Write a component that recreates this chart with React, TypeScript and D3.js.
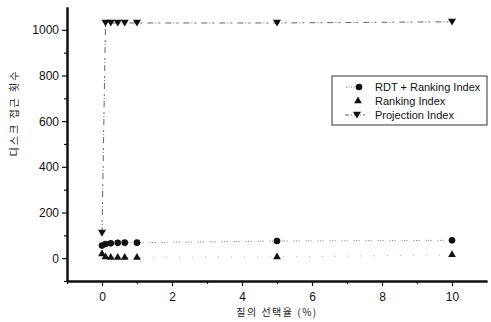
import { useEffect, useRef } from "react"
import * as d3 from "d3"

// selectivity (%) at which each point was measured
const selectivity = [0, 0.1, 0.25, 0.45, 0.65, 1, 5, 10]
const rdtRanking = [55, 62, 65, 67, 68, 68, 75, 78]
const rankingIndex = [18, 5, 3, 3, 3, 3, 5, 15]
const projectionIndex = [110, 1030, 1030, 1030, 1030, 1030, 1030, 1035]

const xMajor = [0, 2, 4, 6, 8, 10]
const xMinor = [-1, 1, 3, 5, 7, 9]
const yMajor = [0, 200, 400, 600, 800, 1000]
const yMinor = [-100, 100, 300, 500, 700, 900]

const legendLabels = ["RDT + Ranking Index", "Ranking Index", "Projection Index"]

export default function App() {
    const svgRef = useRef<SVGSVGElement>(null)

    useEffect(() => {
        if (!svgRef.current) return
        const svg = d3.select(svgRef.current)
        svg.selectAll("*").remove()

        const left = 67, right = 487, top = 7, bottom = 281
        const font = "Liberation Sans, Arial, sans-serif"

        const x = d3.scaleLinear().domain([-1, 11]).range([left, right])
        const y = d3.scaleLinear().domain([-100, 1100]).range([bottom, top])

        const up = d3.symbol().type(d3.symbolTriangle).size(26)
        const down = (cx: number, cy: number) => {
            const s = 4
            return `M${cx - s},${cy - s * 0.8}L${cx + s},${cy - s * 0.8}L${cx},${cy + s * 0.9}Z`
        }

        // series lines
        const line = (vals: number[]) =>
            d3.line<number>().x((_, i) => x(selectivity[i])).y(d => y(d))(vals)

        svg.append("path").attr("d", line(rankingIndex))
            .attr("fill", "none").attr("stroke", "#aaa").attr("stroke-width", 1)
            .attr("stroke-dasharray", "1,12")
        svg.append("path").attr("d", line(rdtRanking))
            .attr("fill", "none").attr("stroke", "#777").attr("stroke-width", 1)
            .attr("stroke-dasharray", "1,1.5,1,1.5,1,6")
        svg.append("path").attr("d", line(projectionIndex))
            .attr("fill", "none").attr("stroke", "#666").attr("stroke-width", 1)
            .attr("stroke-dasharray", "6,2,1,2,2,5")

        // markers
        svg.selectAll(".rdt").data(rdtRanking).enter().append("circle")
            .attr("cx", (_, i) => x(selectivity[i])).attr("cy", d => y(d))
            .attr("r", 3.3).attr("fill", "#111")
        svg.selectAll(".rank").data(rankingIndex).enter().append("path")
            .attr("transform", (d, i) => `translate(${x(selectivity[i])},${y(d)})`)
            .attr("d", up()).attr("fill", "#111")
        svg.selectAll(".proj").data(projectionIndex).enter().append("path")
            .attr("d", (d, i) => down(x(selectivity[i]), y(d))).attr("fill", "#111")

        // axes
        const yAxis = svg.append("g").attr("transform", `translate(${left},0)`)
            .call(d3.axisLeft(y).tickValues(yMajor).tickFormat(d3.format("d")).tickSize(5).tickSizeOuter(0).tickPadding(3))
        yAxis.selectAll("text").style("font-size", "12px").style("font-family", font).attr("fill", "#111")
        svg.append("g").attr("transform", `translate(${left},0)`)
            .call(d3.axisLeft(y).tickValues(yMinor).tickSize(3).tickSizeOuter(0).tickFormat(() => ""))

        const xAxis = svg.append("g").attr("transform", `translate(0,${bottom})`)
            .call(d3.axisBottom(x).tickValues(xMajor).tickFormat(d3.format("d")).tickSize(5).tickSizeOuter(0).tickPadding(6))
        xAxis.selectAll("text").style("font-size", "12px").style("font-family", font).attr("fill", "#111")
        svg.append("g").attr("transform", `translate(0,${bottom})`)
            .call(d3.axisBottom(x).tickValues(xMinor).tickSize(3).tickSizeOuter(0).tickFormat(() => ""))

        svg.selectAll(".domain").attr("stroke", "#111").attr("stroke-width", 2)
        svg.selectAll(".tick line").attr("stroke", "#111").attr("stroke-width", 1.2)

        // axis titles
        svg.append("text")
            .attr("x", x(5)).attr("y", 316).attr("text-anchor", "middle")
            .style("font-family", "Noto Sans CJK KR, sans-serif").style("font-size", "10px")
            .style("letter-spacing", "1.5px").attr("fill", "#222")
            .text("질의 선택율 (%)")
        svg.append("text")
            .attr("transform", `translate(18,113) rotate(-90)`).attr("text-anchor", "middle")
            .style("font-family", "Noto Sans CJK KR, sans-serif").style("font-size", "10px")
            .style("letter-spacing", "2px").attr("fill", "#222")
            .text("디스크 접근 횟수")

        // legend
        const lg = svg.append("g")
        lg.append("rect").attr("x", 332).attr("y", 76).attr("width", 155).attr("height", 49)
            .attr("fill", "#fff").attr("stroke", "#333").attr("stroke-width", 1)
        const rows = [87, 101, 115]
        legendLabels.forEach((label, i) => {
            const ry = rows[i]
            if (i === 0) {
                lg.append("line").attr("x1", 346).attr("x2", 357).attr("y1", ry).attr("y2", ry)
                    .attr("stroke", "#777").attr("stroke-dasharray", "1,1.5")
                lg.append("circle").attr("cx", 359).attr("cy", ry).attr("r", 3.3).attr("fill", "#111")
            } else if (i === 1) {
                lg.append("path").attr("transform", `translate(358,${ry})`).attr("d", up()).attr("fill", "#111")
            } else {
                lg.append("line").attr("x1", 345).attr("x2", 365).attr("y1", ry).attr("y2", ry)
                    .attr("stroke", "#666").attr("stroke-dasharray", "4,2,1,2")
                lg.append("path").attr("d", down(357, ry)).attr("fill", "#111")
            }
            lg.append("text").attr("x", 375).attr("y", ry + 4)
                .style("font-family", font).style("font-size", "11px").attr("fill", "#111")
                .text(label)
        })
    }, [])

    return (
        <svg ref={svgRef} width={491} height={322}
            style={{ position: "absolute", left: 0, top: 0, background: "#fff" }} />
    )
}
